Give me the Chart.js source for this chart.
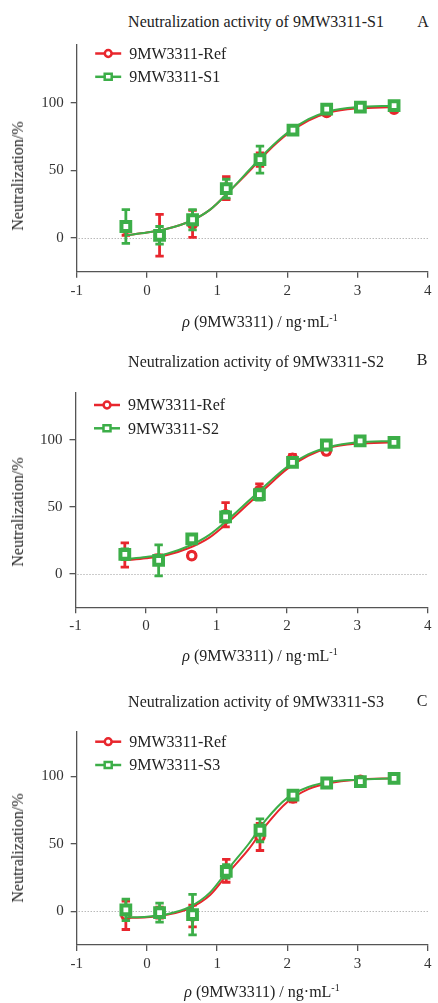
<!DOCTYPE html>
<html>
<head>
<meta charset="utf-8">
<script src="https://cdn.jsdelivr.net/npm/chart.js@4.4.1/dist/chart.umd.min.js"></script>
<style>
    body { margin: 0; background: #fff; }
    #page { position: relative; width: 438px; height: 1003px; overflow: hidden; }
    canvas { position: absolute; left: 0; }
    .t {
        position: absolute;
        transform: translate(-50%, -50%);
        white-space: nowrap;
        font-family: 'Liberation Serif', 'Times New Roman', serif;
        font-size: 16px;
        color: #222;
    }
    .ytitle { transform: translate(-50%, -50%) rotate(-90deg); }
    .t sup { font-size: 10px; vertical-align: 6px; line-height: 0; }
</style>
</head>
<body>
<div id="page">
    <div class="t" style="left:256px; top:22px;">Neutralization activity of 9MW3311-S1</div>
    <div class="t" style="left:423px; top:22px;">A</div>
    <canvas id="chartA" width="438" height="330" style="top:0px"></canvas>
    <div class="t ytitle" style="left:18px; top:176px;">Neutralization/%</div>
    <div class="t" style="left:260px; top:322px;"><i>ρ</i> (9MW3311) / ng·mL<sup>-1</sup></div>

    <div class="t" style="left:256px; top:362px;">Neutralization activity of 9MW3311-S2</div>
    <div class="t" style="left:422px; top:360px;">B</div>
    <canvas id="chartB" width="438" height="330" style="top:330px"></canvas>
    <div class="t ytitle" style="left:18px; top:512px;">Neutralization/%</div>
    <div class="t" style="left:260px; top:656px;"><i>ρ</i> (9MW3311) / ng·mL<sup>-1</sup></div>

    <div class="t" style="left:256px; top:702px;">Neutralization activity of 9MW3311-S3</div>
    <div class="t" style="left:422px; top:701px;">C</div>
    <canvas id="chartC" width="438" height="343" style="top:660px"></canvas>
    <div class="t ytitle" style="left:18px; top:848px;">Neutralization/%</div>
    <div class="t" style="left:262px; top:992px;"><i>ρ</i> (9MW3311) / ng·mL<sup>-1</sup></div>
</div>

<script>
// log10 concentration of each dilution (measured points)
const X_DOSE = [-0.30, 0.18, 0.65, 1.13, 1.61, 2.08, 2.56, 3.04, 3.52];
const X_FIT = [-0.3, 0, 0.3, 0.6, 0.9, 1.2, 1.45, 1.7, 2.0, 2.3, 2.6, 3.0, 3.52];
const X_TICKS = [-1, 0, 1, 2, 3, 4];
const Y_TICKS = [0, 50, 100];

// Panel A
const refA = [7, 2, 10.5, 37, 58, 80, 93, 97, 95.5];
const refA_err = [5, 15.5, 10, 8.5, 5, 3, 2, 2, 2];
const s1A = [8.5, 2, 13.5, 36.5, 58, 80, 95.5, 97, 98];
const s1A_err = [12.5, 6.5, 7.5, 7, 10, 3, 2.5, 2, 2];
const refFitA = [2, 4, 7, 12, 21, 36, 49, 63, 77, 87, 93, 96, 97];
const s1FitA = [2, 4, 7, 12, 21, 36, 50, 64, 78, 88, 94, 97, 98];

// Panel B
const refB = [14, 11, 13.5, 44, 62, 86, 91.5, 99, 98];
const refB_err = [9, 3, 2, 9, 5, 3, 2, 2, 2];
const s2B = [14.5, 10, 26, 42.5, 59, 83, 96, 99, 98];
const s2B_err = [4, 11.5, 3, 4, 4, 3, 2, 2, 2];
const refFitB = [10, 11.5, 14, 19, 27, 40, 52, 64, 78, 88, 94, 97, 98];
const s2FitB = [11, 12.5, 15, 20.5, 29, 42, 54, 66, 79.5, 89, 94.5, 98, 99];

// Panel C
const refC = [-3, -1, -3.5, 30, 55, 84, 95, 97, 98.5];
const refC_err = [10.5, 4, 8, 8.5, 10, 3, 2, 2, 1.5];
const s3C = [1, -1, -2.5, 29.5, 60, 86, 95, 96, 98.5];
const s3C_err = [8, 7, 15, 5, 8.5, 2.5, 2, 2, 1.5];
const refFitC = [-5, -4.5, -2.5, 2, 12, 31, 46, 64, 81, 90.5, 95, 97.5, 98.5];
const s3FitC = [-4.5, -4, -2, 3, 14, 34, 50, 68, 84, 92, 96, 97.5, 98.5];

const RED = '#e8262d';
const GREEN = '#3cae48';
const AXIS = '#555';
const FONT = "'Liberation Serif', 'Times New Roman', serif";

Chart.defaults.font.family = FONT;
Chart.defaults.font.size = 15;
Chart.defaults.color = '#222';

function toPoints(xs, ys) {
    return xs.map((x, i) => ({ x: x, y: ys[i] }));
}

/**
 * Vertical error bars with caps, drawn just before the marker dataset
 */
const errorBars = {
    id: 'errorBars',
    beforeDatasetDraw: function(chart, args) {
        const ds = chart.data.datasets[args.index];
        if (!ds.errors) return;
        const ctx = chart.ctx;
        const yScale = chart.scales.y;
        ctx.save();
        ctx.strokeStyle = ds.borderColor;
        ctx.lineWidth = 2.8;
        args.meta.data.forEach((pt, i) => {
            const v = ds.data[i].y;
            const e = ds.errors[i];
            const top = yScale.getPixelForValue(v + e);
            const bot = yScale.getPixelForValue(v - e);
            ctx.beginPath();
            ctx.moveTo(pt.x, top);
            ctx.lineTo(pt.x, bot);
            ctx.moveTo(pt.x - 4.2, top);
            ctx.lineTo(pt.x + 4.2, top);
            ctx.moveTo(pt.x - 4.2, bot);
            ctx.lineTo(pt.x + 4.2, bot);
            ctx.stroke();
        });
        ctx.restore();
    }
};

/**
 * Dotted reference line at 0 %
 */
const zeroLine = {
    id: 'zeroLine',
    beforeDatasetsDraw: function(chart) {
        const ctx = chart.ctx;
        const area = chart.chartArea;
        const y = Math.round(chart.scales.y.getPixelForValue(0)) + 0.5;
        ctx.save();
        ctx.strokeStyle = '#999';
        ctx.lineWidth = 1;
        ctx.setLineDash([1, 2]);
        ctx.beginPath();
        ctx.moveTo(area.left + 2, y);
        ctx.lineTo(area.right, y);
        ctx.stroke();
        ctx.restore();
    }
};

/**
 * Legend with line + marker, like the original figure
 */
const lineLegend = {
    id: 'lineLegend',
    afterDatasetsDraw: function(chart, args, opts) {
        const ctx = chart.ctx;
        const area = chart.chartArea;
        const items = chart.data.datasets.filter(ds => ds.inLegend);
        ctx.save();
        items.forEach((ds, i) => {
            const x0 = area.left + opts.dx;
            const y = area.top + opts.dy + i * opts.gap;
            const xm = x0 + 13;
            ctx.strokeStyle = ds.borderColor;
            ctx.lineWidth = 2.5;
            ctx.beginPath();
            ctx.moveTo(x0, y);
            ctx.lineTo(x0 + 26, y);
            ctx.stroke();
            ctx.fillStyle = '#fff';
            ctx.beginPath();
            if (ds.pointStyle === 'rect') {
                ctx.rect(xm - 3.5, y - 3, 7, 6);
            } else {
                ctx.arc(xm, y, 3.4, 0, Math.PI * 2);
            }
            ctx.fill();
            ctx.stroke();
            ctx.fillStyle = '#222';
            ctx.font = '16px ' + FONT;
            ctx.textBaseline = 'middle';
            ctx.fillText(ds.label, x0 + 34, y + 1);
        });
        ctx.restore();
    }
};

const Panels = {
    /**
     * Build one dose-response panel
     */
    make: function(id, p) {
        const canvas = document.getElementById(id);
        const datasets = [
            {
                label: '9MW3311-Ref',
                data: toPoints(X_FIT, p.refFit),
                borderColor: RED,
                borderWidth: 2,
                pointRadius: 0,
                cubicInterpolationMode: 'monotone',
                order: 4
            },
            {
                label: '9MW3311-Ref',
                inLegend: true,
                data: toPoints(X_DOSE, p.ref),
                errors: p.refErr,
                showLine: false,
                borderColor: RED,
                pointStyle: 'circle',
                pointRadius: 4.2,
                pointBorderWidth: 3.2,
                pointBackgroundColor: '#fff',
                pointBorderColor: RED,
                order: 3
            },
            {
                label: p.name,
                data: toPoints(X_FIT, p.sFit),
                borderColor: GREEN,
                borderWidth: 2,
                pointRadius: 0,
                cubicInterpolationMode: 'monotone',
                order: 2
            },
            {
                label: p.name,
                inLegend: true,
                data: toPoints(X_DOSE, p.s),
                errors: p.sErr,
                showLine: false,
                borderColor: GREEN,
                pointStyle: 'rect',
                pointRadius: 6.2,
                pointBorderWidth: 4,
                pointBackgroundColor: '#fff',
                pointBorderColor: GREEN,
                order: 1
            }
        ];

        new Chart(canvas, {
            type: 'line',
            data: { datasets: datasets },
            options: {
                responsive: false,
                animation: false,
                layout: {
                    padding: { left: 0, top: p.top, right: canvas.width - p.right, bottom: 0 }
                },
                plugins: {
                    legend: { display: false },
                    tooltip: { enabled: false },
                    lineLegend: { dx: 18.5, dy: p.legendDy, gap: 23.3 }
                },
                scales: {
                    x: {
                        type: 'linear',
                        min: -1,
                        max: 4,
                        afterBuildTicks: s => { s.ticks = X_TICKS.map(v => ({ value: v })); },
                        afterFit: s => {
                            s.height = canvas.height - p.bottom;
                            s.paddingLeft = 0;
                            s.paddingRight = 0;
                        },
                        ticks: { autoSkip: false, maxRotation: 0, padding: 4, color: '#333' },
                        grid: { drawOnChartArea: false, drawTicks: true, tickLength: 6, color: AXIS, lineWidth: 1.3 },
                        border: { color: AXIS, width: 1.3 }
                    },
                    y: {
                        min: -25,
                        max: p.yMax,
                        afterBuildTicks: s => { s.ticks = Y_TICKS.map(v => ({ value: v })); },
                        afterFit: s => {
                            s.width = p.left;
                            s.paddingTop = 0;
                            s.paddingBottom = 0;
                        },
                        ticks: { padding: 7, color: '#333' },
                        grid: { drawOnChartArea: false, drawTicks: true, tickLength: 6, color: AXIS, lineWidth: 1.3 },
                        border: { color: AXIS, width: 1.3 }
                    }
                }
            },
            plugins: [zeroLine, errorBars, lineLegend]
        });
    },

    init: function() {
        this.make('chartA', {
            name: '9MW3311-S1', ref: refA, refErr: refA_err, s: s1A, sErr: s1A_err,
            refFit: refFitA, sFit: s1FitA,
            left: 76.7, right: 435, top: 45, bottom: 271.7, yMax: 143, legendDy: 8.5
        });
        this.make('chartB', {
            name: '9MW3311-S2', ref: refB, refErr: refB_err, s: s2B, sErr: s2B_err,
            refFit: refFitB, sFit: s2FitB,
            left: 75.5, right: 435, top: 62.7, bottom: 277.3, yMax: 135, legendDy: 12.3
        });
        this.make('chartC', {
            name: '9MW3311-S3', ref: refC, refErr: refC_err, s: s3C, sErr: s3C_err,
            refFit: refFitC, sFit: s3FitC,
            left: 76.7, right: 436.5, top: 71.7, bottom: 285, yMax: 133, legendDy: 10
        });
    }
};

Panels.init();
</script>
</body>
</html>
